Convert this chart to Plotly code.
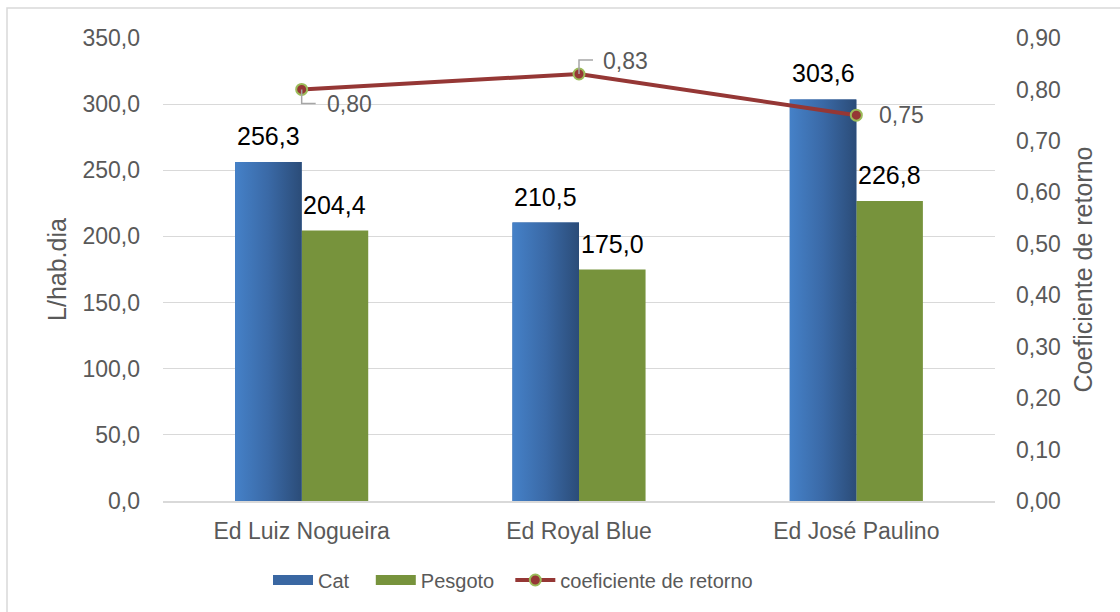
import plotly.graph_objects as go

categories = ["Ed Luiz Nogueira", "Ed Royal Blue", "Ed José Paulino"]
cat_values = [256.3, 210.5, 303.6]
pesgoto_values = [204.4, 175.0, 226.8]
coef_values = [0.80, 0.83, 0.75]
left_ticks = [0, 50, 100, 150, 200, 250, 300, 350]
right_ticks = [0.0, 0.1, 0.2, 0.3, 0.4, 0.5, 0.6, 0.7, 0.8, 0.9]

FONT = "Liberation Sans, Arial, sans-serif"
GRAY = "#595959"
CAT_COLOR = "#3a67a2"
PES_COLOR = "#77933c"
LINE_COLOR = "#953735"
MARK_EDGE = "#9bbb59"
BW = 0.24
xs = list(range(len(categories)))
NB = "\u00a0"


def fmt(v, d):
    return f"{v:.{d}f}".replace(".", ",")


fig = go.Figure()

# Cat bars
fig.add_trace(go.Bar(
    x=xs, y=cat_values, name="Cat", width=BW, offset=-BW,
    marker=dict(color=CAT_COLOR, line=dict(width=0)), showlegend=False,
))
# Pesgoto bars
fig.add_trace(go.Bar(
    x=xs, y=pesgoto_values, name="Pesgoto", width=BW, offset=0,
    marker=dict(color=PES_COLOR, line=dict(width=0)), showlegend=False,
))
# gradient overlay for Cat bars
for xi, v in zip(xs, cat_values):
    x0, x1 = xi - BW, xi
    fig.add_trace(go.Scatter(
        x=[x0, x1, x1, x0, x0], y=[0, 0, v, v, 0], mode="none",
        fill="toself",
        fillgradient=dict(type="horizontal",
                          colorscale=[[0, "#4581c8"], [0.5, "#3a69a6"], [1, "#2b4c78"]]),
        showlegend=False, hoverinfo="skip",
    ))

# legend-only entries (wide rectangular swatches)
fig.add_trace(go.Scatter(x=[None], y=[None], mode="lines", name="Cat" + NB * 3,
                         line=dict(color=CAT_COLOR, width=12)))
fig.add_trace(go.Scatter(x=[None], y=[None], mode="lines", name="Pesgoto" + NB * 2,
                         line=dict(color=PES_COLOR, width=12)))

# coefficient line
fig.add_trace(go.Scatter(
    x=xs, y=coef_values, name="coeficiente de retorno", yaxis="y2",
    mode="lines+markers",
    line=dict(color=LINE_COLOR, width=4),
    marker=dict(symbol="circle", size=11, color=LINE_COLOR,
                line=dict(color=MARK_EDGE, width=2)),
))

# bar value labels
for xi, v in zip(xs, cat_values):
    fig.add_annotation(x=xi - BW / 2, y=v, xref="x", yref="y", text=fmt(v, 1),
                       showarrow=False, yanchor="bottom", yshift=10,
                       font=dict(size=25, color="#000000", family=FONT))
for xi, v in zip(xs, pesgoto_values):
    fig.add_annotation(x=xi + BW / 2, y=v, xref="x", yref="y", text=fmt(v, 1),
                       showarrow=False, yanchor="bottom", yshift=10,
                       font=dict(size=25, color="#000000", family=FONT))

# line value labels with leader lines
label_shifts = [(48, -15), (46, 13), (45, 0)]
leaders = ["M0,0 L0,-14 L14,-14", "M0,0 L0,14 L14,14", None]
for xi, v, (dx, dy), path in zip(xs, coef_values, label_shifts, leaders):
    fig.add_annotation(x=xi, y=v, xref="x", yref="y2", text=fmt(v, 2),
                       showarrow=False, xshift=dx, yshift=dy,
                       font=dict(size=23, color=GRAY, family=FONT))
    if path:
        fig.add_shape(type="path", xref="x", yref="y2",
                      xsizemode="pixel", ysizemode="pixel",
                      xanchor=xi, yanchor=v, path=path,
                      line=dict(color="#a6a6a6", width=1.5), layer="above")

fig.update_layout(
    width=1120, height=612,
    margin=dict(l=163, r=125, t=38, b=111),
    paper_bgcolor="white", plot_bgcolor="white",
    separators=",.",
    barmode="overlay",
    font=dict(family=FONT, color=GRAY, size=20),
    showlegend=True,
    legend=dict(orientation="h", x=(268 - 163) / 832, xanchor="left",
                y=(501 - 580) / 463, yanchor="middle",
                font=dict(size=20, color=GRAY, family=FONT), traceorder="normal",
                itemwidth=40),
    xaxis=dict(
        range=[-0.5, 2.5], tickvals=xs, ticktext=categories,
        showgrid=False, zeroline=False, showline=True, linecolor="#d9d9d9", linewidth=1.5,
        ticks="", tickfont=dict(size=23, color=GRAY, family=FONT), ticklabelstandoff=9,
    ),
    yaxis=dict(
        range=[0, 350], tickvals=left_ticks, tickformat=".1f",
        showgrid=True, gridcolor="#d9d9d9", gridwidth=1, zeroline=False,
        tickfont=dict(size=23, color=GRAY, family=FONT), ticklabelstandoff=22,
        title=dict(text="L/hab.dia", font=dict(size=25, color=GRAY, family=FONT), standoff=8),
    ),
    yaxis2=dict(
        range=[0, 0.9], tickvals=right_ticks, tickformat=".2f",
        overlaying="y", side="right", showgrid=False, zeroline=False,
        tickfont=dict(size=23, color=GRAY, family=FONT), ticklabelstandoff=20,
        title=dict(text="Coeficiente de retorno", font=dict(size=25, color=GRAY, family=FONT), standoff=14),
    ),
)

# outer chart border
fig.add_shape(type="rect", xref="paper", yref="paper",
              x0=(7 - 163) / 832, x1=(1130 - 163) / 832,
              y0=(501 - 630) / 463, y1=(501 - 8) / 463,
              line=dict(color="#d9d9d9", width=1.5), layer="below")

fig.write_html("out.html")
